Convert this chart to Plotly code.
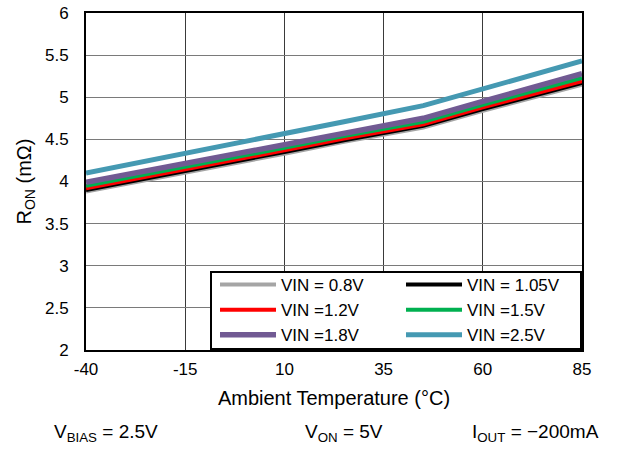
import plotly.graph_objects as go

temps = [-40, -15, 10, 25, 45, 60, 85]
vin_08 = [3.88, 4.10, 4.33, 4.47, 4.64, 4.84, 5.15]
vin_105 = [3.90, 4.12, 4.35, 4.49, 4.66, 4.86, 5.17]
vin_12 = [3.92, 4.14, 4.37, 4.51, 4.68, 4.88, 5.19]
vin_15 = [3.95, 4.17, 4.40, 4.54, 4.71, 4.91, 5.23]
vin_18 = [3.99, 4.21, 4.44, 4.57, 4.75, 4.95, 5.28]
vin_25 = [4.10, 4.33, 4.57, 4.71, 4.90, 5.10, 5.43]

series_names = ["VIN = 0.8V", "VIN = 1.05V", "VIN =1.2V", "VIN =1.5V", "VIN =1.8V", "VIN =2.5V"]
series_vals = [vin_08, vin_105, vin_12, vin_15, vin_18, vin_25]
colors = ["#A5A5A5", "#000000", "#FF0000", "#00B050", "#715A93", "#4599B2"]
widths = [4, 4, 4, 4, 5.5, 5]
legends = ["legend", "legend2", "legend", "legend2", "legend", "legend2"]

x_ticks = [-40, -15, 10, 35, 60, 85]
y_ticks = [2, 2.5, 3, 3.5, 4, 4.5, 5, 5.5, 6]

FONT = "Liberation Sans, Arial, sans-serif"

fig = go.Figure()
for name, vals, c, w, lg in zip(series_names, series_vals, colors, widths, legends):
    fig.add_trace(go.Scatter(
        x=temps, y=vals, mode="lines", name=name,
        line=dict(color=c, width=w), legend=lg, legendgroup=name,
    ))

plot_l, plot_r, plot_t, plot_b = 86, 582, 13, 350
W, H = 625, 449
pw = plot_r - plot_l
ph = plot_b - plot_t

def px_x(p):
    return (p - plot_l) / pw

def px_y(p):
    return (plot_b - p) / ph

leg_common = dict(
    bgcolor="rgba(0,0,0,0)", borderwidth=0,
    font=dict(family=FONT, size=17, color="black"),
    itemwidth=56, tracegroupgap=0, yanchor="top", xanchor="left",
    itemclick=False,
)

fig.update_layout(
    width=W, height=H,
    margin=dict(l=plot_l, r=W - plot_r, t=plot_t, b=H - plot_b),
    paper_bgcolor="white", plot_bgcolor="white",
    font=dict(family=FONT, size=17, color="black"),
    showlegend=True,
    legend=dict(x=px_x(215), y=px_y(267), **leg_common),
    legend2=dict(x=px_x(401), y=px_y(267), **leg_common),
    xaxis=dict(
        range=[-40, 85], tickvals=x_ticks, ticktext=[str(v) for v in x_ticks],
        showgrid=True, gridcolor="#3a3a3a", gridwidth=1,
        showline=True, linecolor="black", linewidth=2, mirror=True,
        ticks="", tickfont=dict(size=17), ticklabelstandoff=3,
        title=dict(text="Ambient Temperature (°C)", font=dict(size=20), standoff=13),
        zeroline=False, automargin=False,
    ),
    yaxis=dict(
        range=[2, 6], tickvals=y_ticks, ticktext=[("%g" % v) for v in y_ticks],
        showgrid=True, gridcolor="#7a7a7a", gridwidth=1,
        showline=True, linecolor="black", linewidth=2, mirror=True,
        ticks="", tickfont=dict(size=17), ticklabelstandoff=12,
        title=dict(text="R<sub>ON</sub> (mΩ)", font=dict(size=20), standoff=8),
        zeroline=False, automargin=False,
    ),
    shapes=[dict(
        type="rect", xref="paper", yref="paper",
        x0=px_x(211), x1=px_x(581), y0=px_y(349), y1=px_y(272),
        line=dict(color="black", width=2), fillcolor="white", layer="above",
    )],
    annotations=[
        dict(text="V<sub>BIAS</sub> = 2.5V", xref="paper", yref="paper",
             x=px_x(52), y=px_y(433), xanchor="left", yanchor="middle",
             showarrow=False, font=dict(size=19)),
        dict(text="V<sub>ON</sub> = 5V", xref="paper", yref="paper",
             x=px_x(303), y=px_y(433), xanchor="left", yanchor="middle",
             showarrow=False, font=dict(size=19)),
        dict(text="I<sub>OUT</sub> = \u2212200mA", xref="paper", yref="paper",
             x=px_x(470), y=px_y(433), xanchor="left", yanchor="middle",
             showarrow=False, font=dict(size=19)),
    ],
)

fig.write_html(
    "out.html",
    config={"displayModeBar": False},
    post_script="document.body.style.margin='0';document.body.style.padding='0';",
)
